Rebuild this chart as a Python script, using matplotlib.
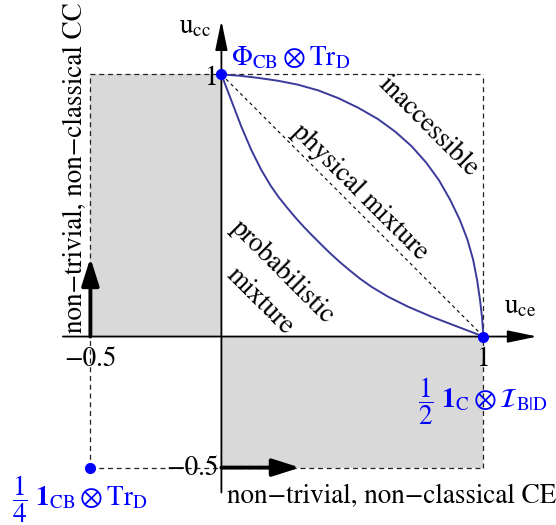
import matplotlib
matplotlib.use("Agg")
import matplotlib.pyplot as plt
from matplotlib.patches import Rectangle

plt.rcParams["font.family"] = ["STIXGeneral", "DejaVu Serif"]
plt.rcParams["mathtext.fontset"] = "stix"

# boundary curves (u_ce, u_cc)
upper_x = [0, 0.07, 0.139, 0.215, 0.292, 0.37, 0.445, 0.52, 0.597, 0.663, 0.726,
           0.782, 0.830, 0.874, 0.910, 0.939, 0.961, 0.976, 0.987, 0.995, 1]
upper_y = [1, 0.995, 0.987, 0.976, 0.961, 0.939, 0.910, 0.874, 0.830, 0.782, 0.726,
           0.663, 0.597, 0.52, 0.445, 0.37, 0.292, 0.215, 0.139, 0.07, 0]
lower_x = [0, 0.037, 0.076, 0.114, 0.152, 0.189, 0.22, 0.253, 0.285, 0.316, 0.342, 0.366,
           0.39, 0.417, 0.451, 0.489, 0.530, 0.574, 0.636, 0.712, 0.801, 0.903, 1]
lower_y = [1, 0.903, 0.801, 0.712, 0.636, 0.574, 0.530, 0.489, 0.451, 0.417, 0.39, 0.366,
           0.342, 0.316, 0.285, 0.253, 0.22, 0.189, 0.152, 0.114, 0.076, 0.037, 0]

pts_x = [0, 1, -0.5]
pts_y = [1, 0, -0.5]

blue = "#0000ff"
curve_col = "#3a3a9a"
fs = 19.5

fig = plt.figure(figsize=(5.56, 5.25), dpi=100)
ax = fig.add_axes([0, 0, 1, 1])
ax.set_xlim(-0.845, 1.277)
ax.set_ylim(-0.719, 1.284)
ax.axis("off")

# shaded non-classical regions
ax.add_patch(Rectangle((-0.5, 0), 0.5, 1, fc="#d9d9d9", ec="none", zorder=0))
ax.add_patch(Rectangle((0, -0.5), 1, 0.5, fc="#d9d9d9", ec="none", zorder=0))

# dashed frame
dash = dict(color="#222222", lw=0.9, ls=(0, (4, 3)), zorder=1)
ax.plot([-0.5, 1], [1, 1], **dash)
ax.plot([1, 1], [-0.5, 1], **dash)
ax.plot([-0.5, -0.5], [-0.5, 1], **dash)
ax.plot([-0.5, 1], [-0.5, -0.5], **dash)
ax.plot([0, 1], [1, 0], color="k", lw=0.8, ls=(0, (3, 3)), zorder=1)

# axes with arrows
axis_arrow = dict(arrowstyle="-|>,head_length=1.2,head_width=0.25", mutation_scale=15,
                  lw=1.3, color="k", shrinkA=0, shrinkB=0)
ax.annotate("", xy=(1.205, 0), xytext=(-0.605, 0), arrowprops=axis_arrow, zorder=3)
ax.annotate("", xy=(0, 1.205), xytext=(0, -0.595), arrowprops=axis_arrow, zorder=3)

# thick arrows
thick = dict(arrowstyle="-|>,head_length=1.1,head_width=0.35", mutation_scale=15,
             lw=2.8, color="k", shrinkA=0, shrinkB=0)
ax.annotate("", xy=(-0.5, 0.30), xytext=(-0.5, 0), arrowprops=thick, zorder=3)
ax.annotate("", xy=(0.30, -0.5), xytext=(0, -0.5), arrowprops=thick, zorder=3)

# curves and points
ax.plot(upper_x, upper_y, color=curve_col, lw=1.4, zorder=2)
ax.plot(lower_x, lower_y, color=curve_col, lw=1.4, zorder=2)
ax.plot(pts_x, pts_y, "o", color=blue, ms=7, zorder=4, clip_on=False)

# axis labels and ticks
ax.text(-0.04, 1.155, r"$\mathrm{u}_{\mathrm{cc}}$", fontsize=fs, ha="right", va="baseline")
ax.text(1.08, 0.09, r"$\mathrm{u}_{\mathrm{ce}}$", fontsize=fs, ha="left", va="baseline")
ax.text(-0.012, 0.96, "1", fontsize=fs, ha="right", va="baseline")
ax.text(1.0, -0.04, "1", fontsize=fs, ha="center", va="top")
ax.text(-0.5, -0.04, "\u22120.5", fontsize=fs, ha="center", va="top")
ax.text(-0.012, -0.502, "\u22120.5", fontsize=fs, ha="right", va="center")

# state labels
ax.text(0.036, 1.036, r"$\Phi_{\mathrm{CB}}\otimes\mathrm{Tr}_{\mathrm{D}}$",
        fontsize=fs, color=blue, ha="left", va="baseline")
ax.text(0.75, -0.272, r"$\dfrac{1}{2}\ \mathbf{1}_{\mathrm{C}}\otimes\mathcal{I}_{\mathrm{B|D}}$",
        fontsize=fs, color=blue, ha="left", va="baseline")
ax.text(-0.80, -0.645, r"$\dfrac{1}{4}\ \mathbf{1}_{\mathrm{CB}}\otimes\mathrm{Tr}_{\mathrm{D}}$",
        fontsize=fs, color=blue, ha="left", va="baseline")

# region labels
ax.text(0.79, 0.80, "inaccessible", fontsize=fs, rotation=-45, rotation_mode="anchor",
        ha="center", va="center")
ax.text(0.53, 0.55, "physical mixture", fontsize=fs, rotation=-45, rotation_mode="anchor",
        ha="center", va="center")
ax.text(0.235, 0.246, "probabilistic", fontsize=fs, rotation=-45, rotation_mode="anchor",
        ha="center", va="center")
ax.text(0.147, 0.135, "mixture", fontsize=fs, rotation=-45, rotation_mode="anchor",
        ha="center", va="center")

ax.text(0.021, -0.636, "non\u2212trivial, non\u2212classical CE", fontsize=fs,
        ha="left", va="baseline")
ax.text(-0.532, 0.012, "non\u2212trivial, non\u2212classical CC", fontsize=fs,
        rotation=90, rotation_mode="anchor", ha="left", va="baseline")

fig.savefig("out.png", dpi=100)
